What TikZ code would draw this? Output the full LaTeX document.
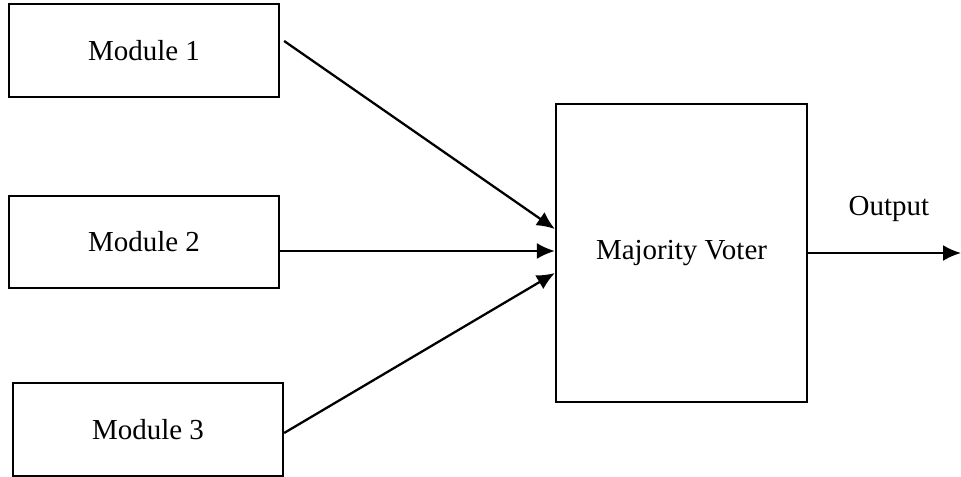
\documentclass[tikz,border=0pt]{standalone}
\usepackage{fontspec}
\setmainfont{Liberation Serif}
\usepackage{tikz}
\usetikzlibrary{arrows.meta}

\begin{document}
\begin{tikzpicture}[x=0.02cm, y=-0.02cm,
          every node/.style={font=\fontsize{16.5}{19}\selectfont},
          modbox/.style={draw, line width=1.3pt, minimum width=5.4cm, minimum height=1.85cm},
          voterbox/.style={draw, line width=1.3pt, minimum width=5.02cm, minimum height=5.96cm},
          flow/.style={draw, line width=1.3pt, -{Latex[length=0.36cm, width=0.32cm]}}
        ]
        \useasboundingbox (0,0) rectangle (961,477);
        % redundant modules
        \node[modbox] (m1) at (144,50.5) {Module 1};
        \node[modbox] (m2) at (144,242) {Module 2};
        \node[modbox] (m3) at (148,429.5) {Module 3};
        % voter
        \node[voterbox] (v) at (681.5,253) {Majority Voter};
        \coordinate (in2) at ([yshift=-0.18cm]m2.east);
        \coordinate (out) at (961,253);
        \draw[flow] ([xshift=0.08cm, yshift=0.19cm]m1.east) -- ([yshift=0.48cm]v.west);
        \draw[flow] (in2) -- (in2 -| v.west);
        \draw[flow] ([yshift=-0.07cm]m3.east) -- ([yshift=-0.40cm]v.west);
        \draw[flow] (v.east |- out) -- (out);
        \node (outlbl) at (889,209) {Output};
      \end{tikzpicture}
\end{document}
